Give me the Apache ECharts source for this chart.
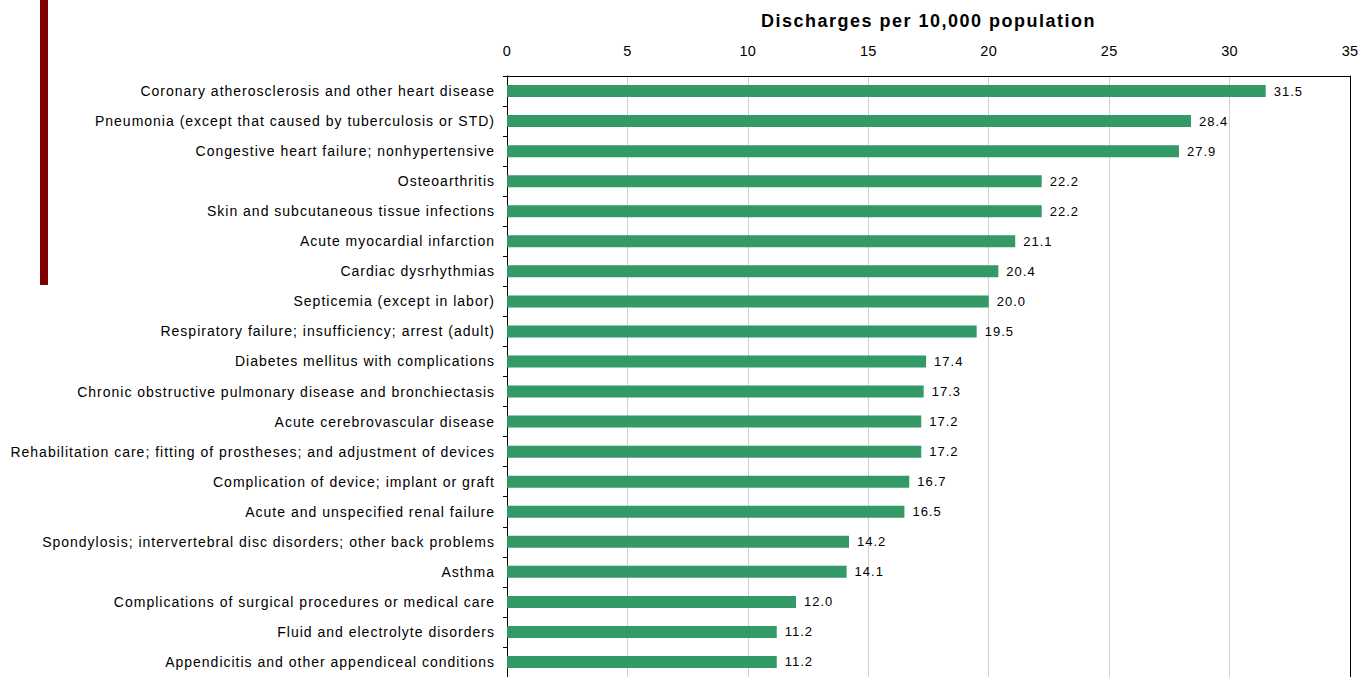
<!DOCTYPE html>
<html>
<head>
<meta charset="utf-8">
<script src="https://cdn.jsdelivr.net/npm/echarts@6/dist/echarts.min.js"></script>
<style>
html,body{margin:0;padding:0;background:#fff;}
#chart{width:1364px;height:677px;}
#chart text{letter-spacing:1px;}
#chart text[style*="bold"]{letter-spacing:1.5px;}
#chart text[style*="14.5px"]{letter-spacing:0.3px;}
</style>
</head>
<body>
<div id="chart"></div>
<script>
const categories = [
  "Coronary atherosclerosis and other heart disease",
  "Pneumonia (except that caused by tuberculosis or STD)",
  "Congestive heart failure; nonhypertensive",
  "Osteoarthritis",
  "Skin and subcutaneous tissue infections",
  "Acute myocardial infarction",
  "Cardiac dysrhythmias",
  "Septicemia (except in labor)",
  "Respiratory failure; insufficiency; arrest (adult)",
  "Diabetes mellitus with complications",
  "Chronic obstructive pulmonary disease and bronchiectasis",
  "Acute cerebrovascular disease",
  "Rehabilitation care; fitting of prostheses; and adjustment of devices",
  "Complication of device; implant or graft",
  "Acute and unspecified renal failure",
  "Spondylosis; intervertebral disc disorders; other back problems",
  "Asthma",
  "Complications of surgical procedures or medical care",
  "Fluid and electrolyte disorders",
  "Appendicitis and other appendiceal conditions"
];
const values = [31.5, 28.4, 27.9, 22.2, 22.2, 21.1, 20.4, 20.0, 19.5, 17.4, 17.3, 17.2, 17.2, 16.7, 16.5, 14.2, 14.1, 12.0, 11.2, 11.2];
const axisTitle = "Discharges per 10,000 population";

const chart = echarts.init(document.getElementById('chart'), null, {renderer: 'svg'});
const font = "'Liberation Sans', Arial, sans-serif";
chart.setOption({
  animation: false,
  textStyle: {fontFamily: font},
  graphic: [{
    type: 'rect',
    shape: {x: 40, y: 0, width: 8, height: 285},
    style: {fill: '#800000'}
  }],
  grid: {left: 507, right: 14, top: 76, height: 605},
  xAxis: {
    type: 'value',
    position: 'top',
    min: 0, max: 35, interval: 5,
    name: axisTitle,
    nameLocation: 'middle',
    nameGap: 46,
    nameTextStyle: {fontSize: 18, fontWeight: 'bold', color: '#000', fontFamily: font},
    axisLine: {show: true, lineStyle: {color: '#000', width: 1}},
    axisTick: {show: true, inside: true, length: 0},
    axisLabel: {fontSize: 14.5, color: '#000', margin: 18, fontFamily: font},
    splitLine: {show: true, lineStyle: {color: '#d0d0d0', width: 1}}
  },
  yAxis: [{
    type: 'category',
    data: categories,
    inverse: true,
    axisLine: {show: true, lineStyle: {color: '#000', width: 1}},
    axisTick: {show: true, length: 4, lineStyle: {color: '#000'}},
    axisLabel: {fontSize: 14, color: '#000', margin: 12, fontFamily: font}
  }, {
    type: 'category',
    data: categories,
    inverse: true,
    position: 'right',
    axisLine: {show: true, lineStyle: {color: '#000', width: 1}},
    axisTick: {show: false},
    axisLabel: {show: false}
  }],
  series: [{
    type: 'bar',
    data: values,
    barWidth: 12,
    itemStyle: {color: '#339966'},
    label: {
      show: true,
      position: 'right',
      distance: 8,
      fontSize: 13,
      color: '#000',
      fontFamily: font,
      formatter: p => p.value.toFixed(1)
    }
  }]
});
</script>
</body>
</html>
